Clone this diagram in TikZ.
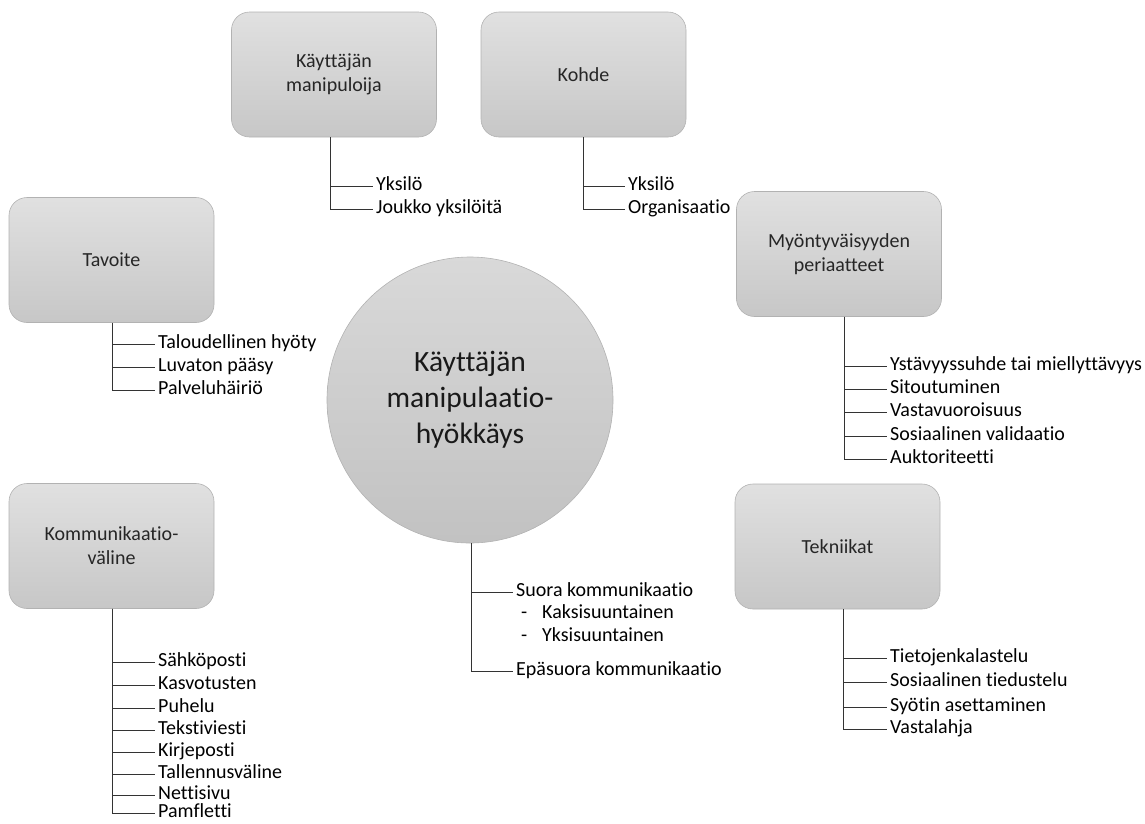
\documentclass[tikz,border=0pt]{standalone}
\usepackage{fontspec}
\setmainfont{Carlito}[Ligatures=NoCommon]
\begin{document}
\begin{tikzpicture}[x=1pt,y=-1pt,
  box/.style={draw=black!30, line width=0.6pt, rounded corners=18pt,
    top color=black!12, bottom color=black!22,
    minimum width=205pt, minimum height=125pt, align=center,
    text=black!85, font=\fontsize{20}{24}\selectfont},
  hub/.style={circle, draw=black!30, line width=0.6pt, inner sep=0pt,
    top color=black!15, bottom color=black!24,
    minimum size=286pt, align=center, text=black!90,
    font=\fontsize{29.5}{36}\selectfont},
  item/.style={anchor=west, inner xsep=3pt, inner ysep=1pt, text height=14pt, text depth=5pt,
    font=\fontsize{20}{23}\selectfont, text=black},
  conn/.style={draw=black!80, line width=0.9pt}]
\useasboundingbox (0,0) rectangle (1145,823);
\clip (0,0) rectangle (1145,823);

% boxes
\node[box] (km) at (334,74.5) {Käyttäjän\\manipuloija};
\node[box] (ko) at (583.5,74.5) {Kohde};
\node[box] (ta) at (111.5,260) {Tavoite};
\node[box] (my) at (839,254) {Myöntyväisyyden\\periaatteet};
\node[box] (kv) at (111.5,546) {Kommunikaatio-\\väline};
\node[box] (te) at (837.5,546.5) {Tekniikat};
\node[hub] (c) at (470,400) {\raisebox{-5pt}{\parbox{260pt}{\centering Käyttäjän\\manipulaatio-\\hyökkäys}}};

% Käyttäjän manipuloija
\node[item] (km1) at (373,186) {Yksilö};
\node[item] (km2) at (373,209) {Joukko yksilöitä};
\foreach \i in {km1,km2} \draw[conn] ([xshift=-4pt]km.south) |- (\i.west);

% Kohde
\node[item] (ko1) at (625,186) {Yksilö};
\node[item] (ko2) at (625,209) {Organisaatio};
\foreach \i in {ko1,ko2} \draw[conn] ([xshift=-0.5pt]ko.south) |- (\i.west);

% Tavoite
\node[item] (ta1) at (155,344) {Taloudellinen hyöty};
\node[item] (ta2) at (155,367) {Luvaton pääsy};
\node[item] (ta3) at (155,390) {Palveluhäiriö};
\foreach \i in {ta1,ta2,ta3} \draw[conn] ([xshift=0.5pt]ta.south) |- (\i.west);

% Myöntyväisyyden periaatteet
\node[item] (my1) at (887,366) {Ystävyyssuhde tai miellyttävyys};
\node[item] (my2) at (887,389) {Sitoutuminen};
\node[item] (my3) at (887,412) {Vastavuoroisuus};
\node[item] (my4) at (887,436) {Sosiaalinen validaatio};
\node[item] (my5) at (887,459) {Auktoriteetti};
\foreach \i in {my1,my2,my3,my4,my5} \draw[conn] ([xshift=5pt]my.south) |- (\i.west);

% Tekniikat
\node[item] (te1) at (887,658) {Tietojenkalastelu};
\node[item] (te2) at (887,682) {Sosiaalinen tiedustelu};
\node[item] (te3) at (887,707) {Syötin asettaminen};
\node[item] (te4) at (887,729) {Vastalahja};
\foreach \i in {te1,te2,te3,te4} \draw[conn] ([xshift=5.5pt]te.south) |- (\i.west);

% Kommunikaatioväline
\node[item] (kv1) at (155,662) {Sähköposti};
\node[item] (kv2) at (155,685) {Kasvotusten};
\node[item] (kv3) at (155,708) {Puhelu};
\node[item] (kv4) at (155,730) {Tekstiviesti};
\node[item] (kv5) at (155,752) {Kirjeposti};
\node[item] (kv6) at (155,774) {Tallennusväline};
\node[item] (kv7) at (155,795) {Nettisivu};
\node[item] (kv8) at (155,813) {Pamfletti};
\foreach \i in {kv1,kv2,kv3,kv4,kv5,kv6,kv7,kv8} \draw[conn] ([xshift=0.5pt]kv.south) |- (\i.west);

% Central
\node[item] (c1) at (513,592) {Suora kommunikaatio};
\node[item] (c1a) at (518,614) {-};
\node[item] (c1b) at (539,614) {Kaksisuuntainen};
\node[item] (c1c) at (518,637) {-};
\node[item] (c1d) at (539,637) {Yksisuuntainen};
\node[item] (c2) at (513,671) {Epäsuora kommunikaatio};
\foreach \i in {c1,c2} \draw[conn] ([xshift=1pt]c.south) |- (\i.west);
\end{tikzpicture}
\end{document}
